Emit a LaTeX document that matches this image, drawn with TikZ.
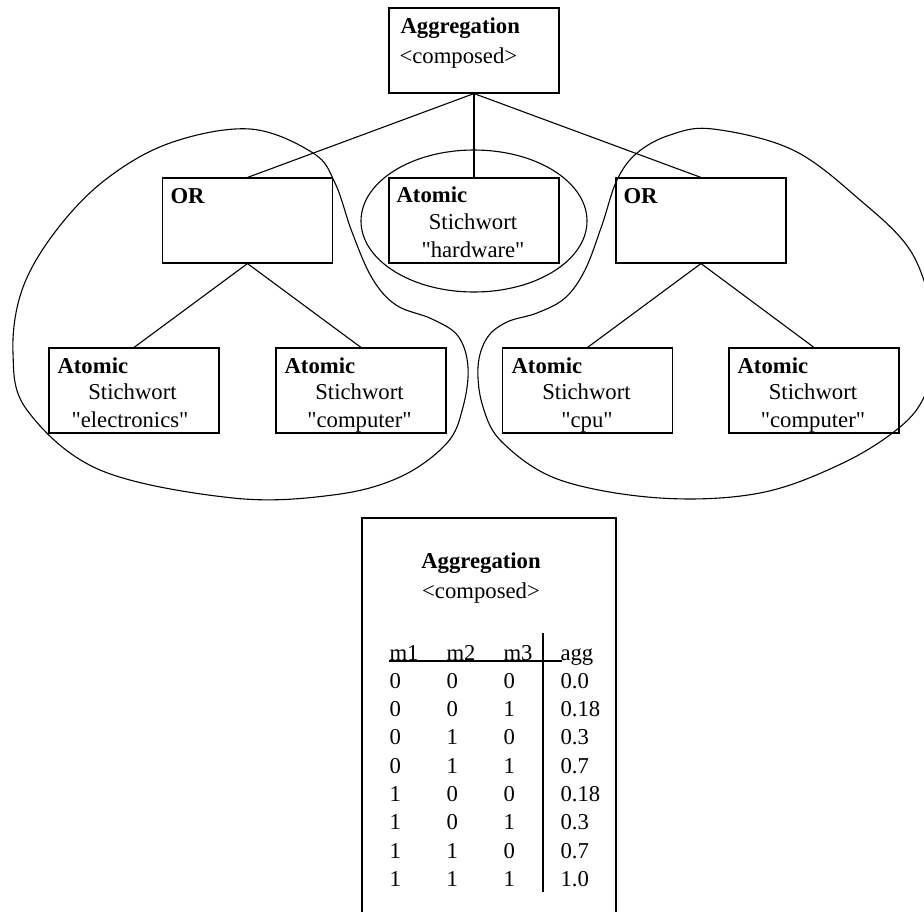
\documentclass[tikz,border=0pt]{standalone}
\usepackage{fontspec}
\setmainfont{Liberation Serif}[Ligatures=TeXOff]
\begin{document}
\begin{tikzpicture}[x=1pt, y=-1pt, line width=1.1pt,
  every node/.style={font=\fontsize{22.7}{28.3}\selectfont, inner sep=0pt},
  box/.style={draw, rectangle, minimum width=170pt, minimum height=85pt},
  lt/.style={anchor=base west},
  ct/.style={anchor=base},
  hd/.style={anchor=base west, font=\fontsize{22.7}{28.3}\selectfont\bfseries},
  blob/.style={line width=1.1pt}]
\useasboundingbox (0,0) rectangle (924,911);
\clip (0,0) rectangle (924,911);

% --- query tree ---
\node[box] (agg) at (474,50.5) {};
\node[hd] (aggT) at (400,33) {Aggregation};
\node[lt] (aggS) at (399,63) {<composed>};

\node[box] (orL) at (247.5,220.5) {};
\node[hd] (orLT) at (170,203) {OR};
\node[box] (hw) at (474,220.5) {};
\node[hd] (hwT) at (396,202) {Atomic};
\node[ct] (hwS) at (473,229) {Stichwort};
\node[ct] (hwV) at (473,257) {"hardware"};
\node[box] (orR) at (701,220.5) {};
\node[hd] (orRT) at (623,203) {OR};

\node[box] (a1) at (134,390.5) {};
\node[hd] (a1T) at (57,373) {Atomic};
\node[ct] (a1S) at (132.5,399) {Stichwort};
\node[ct] (a1V) at (130,427) {"electronics"};
\node[box] (a2) at (361,390.5) {};
\node[hd] (a2T) at (284,373) {Atomic};
\node[ct] (a2S) at (359.5,399) {Stichwort};
\node[ct] (a2V) at (359.5,427) {"computer"};
\node[box] (a3) at (587.5,390.5) {};
\node[hd] (a3T) at (511,373) {Atomic};
\node[ct] (a3S) at (586.5,399) {Stichwort};
\node[ct] (a3V) at (587,427) {"cpu"};
\node[box] (a4) at (814,390.5) {};
\node[hd] (a4T) at (737,373) {Atomic};
\node[ct] (a4S) at (813,399) {Stichwort};
\node[ct] (a4V) at (813,427) {"computer"};

\draw (agg.south) -- (orL.north);
\draw (agg.south) -- (hw.north);
\draw (agg.south) -- (orR.north);
\draw (orL.south) -- (a1.north);
\draw (orL.south) -- (a2.north);
\draw (orR.south) -- (a3.north);
\draw (orR.south) -- (a4.north);

% --- groupings ---
\draw[blob] (474,221) ellipse [x radius=113, y radius=71];
\draw[blob] plot[smooth cycle, tension=0.6] coordinates {
  (250,129) (313,153) (335,183) (352,232) (372,278) (396,305) (432,319)
  (458,336) (468,367) (463,407) (447,443) (400,477) (333,495) (233,498)
  (100,470) (27,410) (13,353) (22,290) (55,232) (105,180) (170,143)};
\draw[blob] plot[smooth cycle, tension=0.6] coordinates {
  (713,129) (793,150) (860,200) (910,250) (932,310) (935,352) (925,395)
  (900,427) (843,463) (760,493) (660,498) (560,480) (503,443) (483,407)
  (478,367) (487,338) (507,322) (537,313) (565,298) (585,270) (602,225)
  (617,180) (637,153) (670,135)};

% --- aggregation table ---
\draw (362,930) -- (362,518) -- (616,518) -- (616,930);
\node[ct, font=\fontsize{22.7}{28.3}\selectfont\bfseries] (tabT) at (481,568) {Aggregation};
\node[ct] (tabS) at (481,598) {<composed>};
\draw (543,633) -- (543,892);
\draw (389,661) -- (562,661);
\node[lt] (h1) at (389,660) {m1};
\node[lt] (h2) at (446,660) {m2};
\node[lt] (h3) at (503,660) {m3};
\node[lt] (h4) at (560,660) {agg};
\foreach \a/\b/\c/\v [count=\i] in {0/0/0/0.0, 0/0/1/0.18, 0/1/0/0.3, 0/1/1/0.7,
                                     1/0/0/0.18, 1/0/1/0.3, 1/1/0/0.7, 1/1/1/1.0} {
  \node[lt] (r\i a) at (389,660+28.3*\i) {\a};
  \node[lt] (r\i b) at (446,660+28.3*\i) {\b};
  \node[lt] (r\i c) at (503,660+28.3*\i) {\c};
  \node[lt] (r\i d) at (560,660+28.3*\i) {\v};
}
\end{tikzpicture}
\end{document}
